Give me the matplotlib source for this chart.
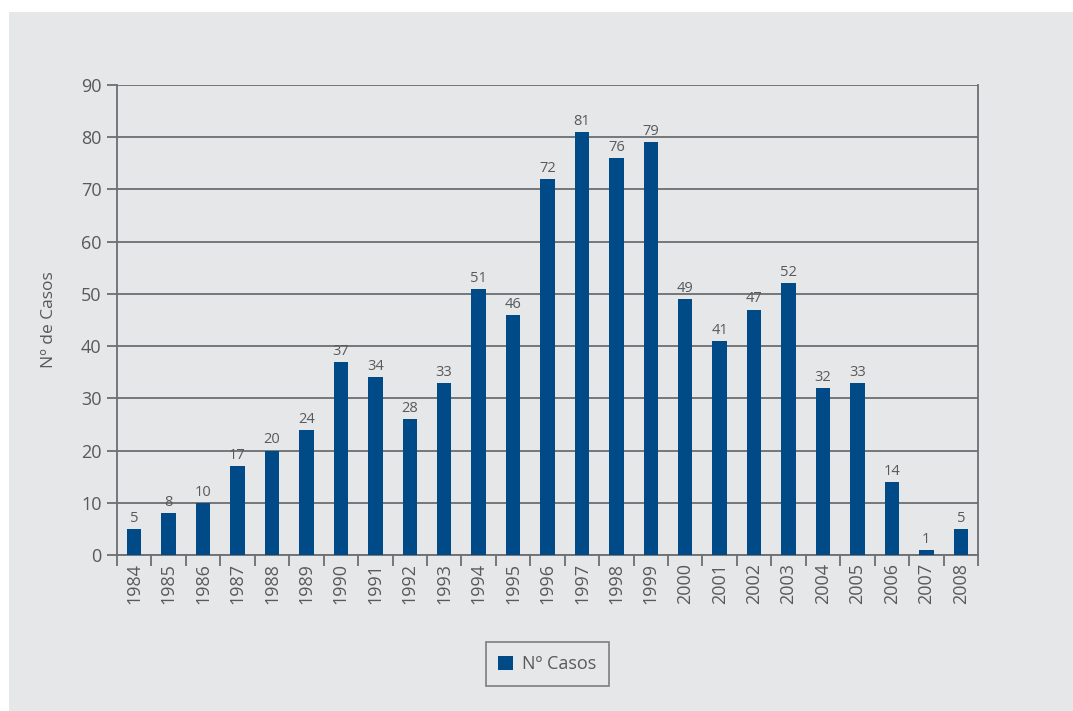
import numpy as np
import matplotlib.pyplot as plt
from matplotlib.patches import Rectangle

years = [str(y) for y in range(1984, 2009)]
# bar heights as drawn in the picture
heights = [5, 8, 10, 17, 20, 24, 37, 34, 26, 33, 51, 46, 72, 81, 76, 79,
           49, 41, 47, 52, 32, 33, 14, 1, 5]
# data labels printed above the bars
labels = [5, 8, 10, 17, 20, 24, 37, 34, 28, 33, 51, 46, 72, 81, 76, 79,
          49, 41, 47, 52, 32, 33, 14, 1, 5]
yticks = [0, 10, 20, 30, 40, 50, 60, 70, 80, 90]

bg = '#e6e7e8'
bar_color = '#004a87'
line_color = '#6d6e71'
text_color = '#58595b'

plt.rcParams['font.family'] = ['Open Sans', 'DejaVu Sans']

fig = plt.figure(figsize=(10.73, 7.11), dpi=100)
fig.patch.set_facecolor('white')
fig.patches.append(Rectangle((9 / 1073, 0), 1, 1 - 12 / 711, transform=fig.transFigure,
                             facecolor=bg, edgecolor='none', zorder=-10))

ax = fig.add_axes([117 / 1073, 1 - 555 / 711, 861 / 1073, 470 / 711])
ax.set_facecolor(bg)

x = np.arange(len(years))
bars = ax.bar(x, heights, width=0.42, color=bar_color, zorder=3, label='Nº Casos')
for xi, h, lab in zip(x, heights, labels):
    ax.text(xi, h + 0.6, str(lab), ha='center', va='bottom', fontsize=10.5,
            color=text_color, zorder=4)

ax.set_xlim(-0.5, len(years) - 0.5)
ax.set_ylim(0, 90)
ax.set_yticks(yticks)
ax.set_yticklabels([str(v) for v in yticks], fontsize=13, color=text_color)
ax.yaxis.grid(True, color=line_color, linewidth=1.3, zorder=1)
ax.set_axisbelow(True)

# category ticks at the boundaries, labels at the centers
ax.set_xticks(np.arange(len(years) + 1) - 0.5)
ax.set_xticklabels([])
ax.set_xticks(x, minor=True)
ax.set_xticklabels(years, minor=True, rotation=90, fontsize=13, color=text_color)
ax.tick_params(axis='x', which='major', length=8, width=1.3, color=line_color, direction='out')
ax.tick_params(axis='x', which='minor', length=0, pad=6)
ax.tick_params(axis='y', length=7, width=1.3, color=line_color, pad=4)

for side in ['left', 'right', 'bottom']:
    ax.spines[side].set_color(line_color)
    ax.spines[side].set_linewidth(1.3)
ax.spines['top'].set_visible(False)

ax.set_ylabel('Nº de Casos', fontsize=12.5, color=text_color, labelpad=17)

leg = fig.legend(handles=[bars], labels=['Nº Casos'], loc='center',
                 bbox_to_anchor=(547 / 1073, 1 - 664 / 711), fontsize=13,
                 frameon=True, fancybox=False, handlelength=0.8, handleheight=0.8,
                 handletextpad=0.5, borderpad=0.7)
leg.get_frame().set_edgecolor(line_color)
leg.get_frame().set_linewidth(1.3)
leg.get_frame().set_facecolor(bg)
for t in leg.get_texts():
    t.set_color(text_color)

fig.savefig('out.png', dpi=100, facecolor=fig.get_facecolor())
